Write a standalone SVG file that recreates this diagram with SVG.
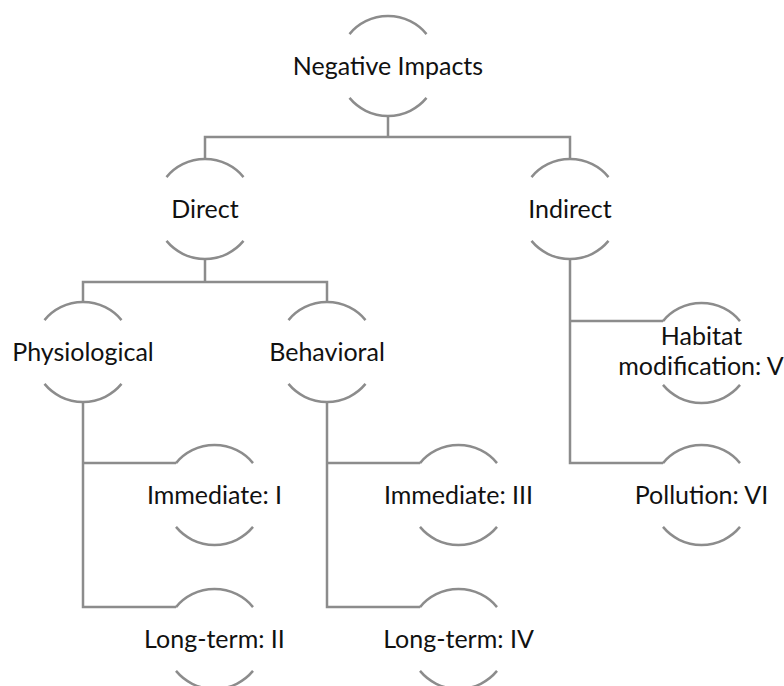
<svg xmlns="http://www.w3.org/2000/svg" xmlns:xlink="http://www.w3.org/1999/xlink" width="784" height="686" viewBox="0 0 784 686">
<style>
.ring{fill:none;stroke:#8c8c8c;stroke-width:2.5}
.conn{fill:none;stroke:#8c8c8c;stroke-width:2.5}
.lbl{font-family:Lato,"Liberation Sans",sans-serif;font-size:25px;fill:#111;text-anchor:middle}
</style>
<defs>
<path id="ring" class="ring" d="M -38.5 -31.9 A 50 50 0 0 1 38.5 -31.9 M -38.5 31.9 A 50 50 0 0 0 38.5 31.9"/>
</defs>
<rect width="784" height="686" fill="#fff"/>
<g id="connectors" class="conn">
<path d="M 388 116 V 137 M 205 159 V 137 H 570 V 159"/>
<path d="M 205 260 V 282 M 83 302 V 282 H 327 V 302"/>
<path d="M 570 260 V 463 H 663 M 570 321 H 663"/>
<path d="M 83 402 V 607 H 176 M 83 463 H 176"/>
<path d="M 327 402 V 607 H 420 M 327 463 H 420"/>
</g>
<g id="n-root"><use xlink:href="#ring" x="388" y="66"/><text class="lbl" x="388" y="75">Negative Impacts</text></g>
<g id="n-direct"><use xlink:href="#ring" x="205" y="209"/><text class="lbl" x="205" y="218">Direct</text></g>
<g id="n-indirect"><use xlink:href="#ring" x="570" y="209"/><text class="lbl" x="570" y="218">Indirect</text></g>
<g id="n-physio"><use xlink:href="#ring" x="83" y="352"/><text class="lbl" x="83" y="361">Physiological</text></g>
<g id="n-behav"><use xlink:href="#ring" x="327" y="352"/><text class="lbl" x="327" y="361">Behavioral</text></g>
<g id="n-habitat"><use xlink:href="#ring" x="701.5" y="353"/><text class="lbl" x="701.5" y="345">Habitat</text><text class="lbl" x="701" y="375">modification: V</text></g>
<g id="n-pollution"><use xlink:href="#ring" x="701.5" y="495"/><text class="lbl" x="701.5" y="504">Pollution: VI</text></g>
<g id="n-imm1"><use xlink:href="#ring" x="214.5" y="495"/><text class="lbl" x="214.5" y="504">Immediate: I</text></g>
<g id="n-long2"><use xlink:href="#ring" x="214.5" y="639"/><text class="lbl" x="214.5" y="648">Long-term: II</text></g>
<g id="n-imm3"><use xlink:href="#ring" x="458.5" y="495"/><text class="lbl" x="458.5" y="504">Immediate: III</text></g>
<g id="n-long4"><use xlink:href="#ring" x="458.5" y="639"/><text class="lbl" x="458.5" y="648">Long-term: IV</text></g>
</svg>
